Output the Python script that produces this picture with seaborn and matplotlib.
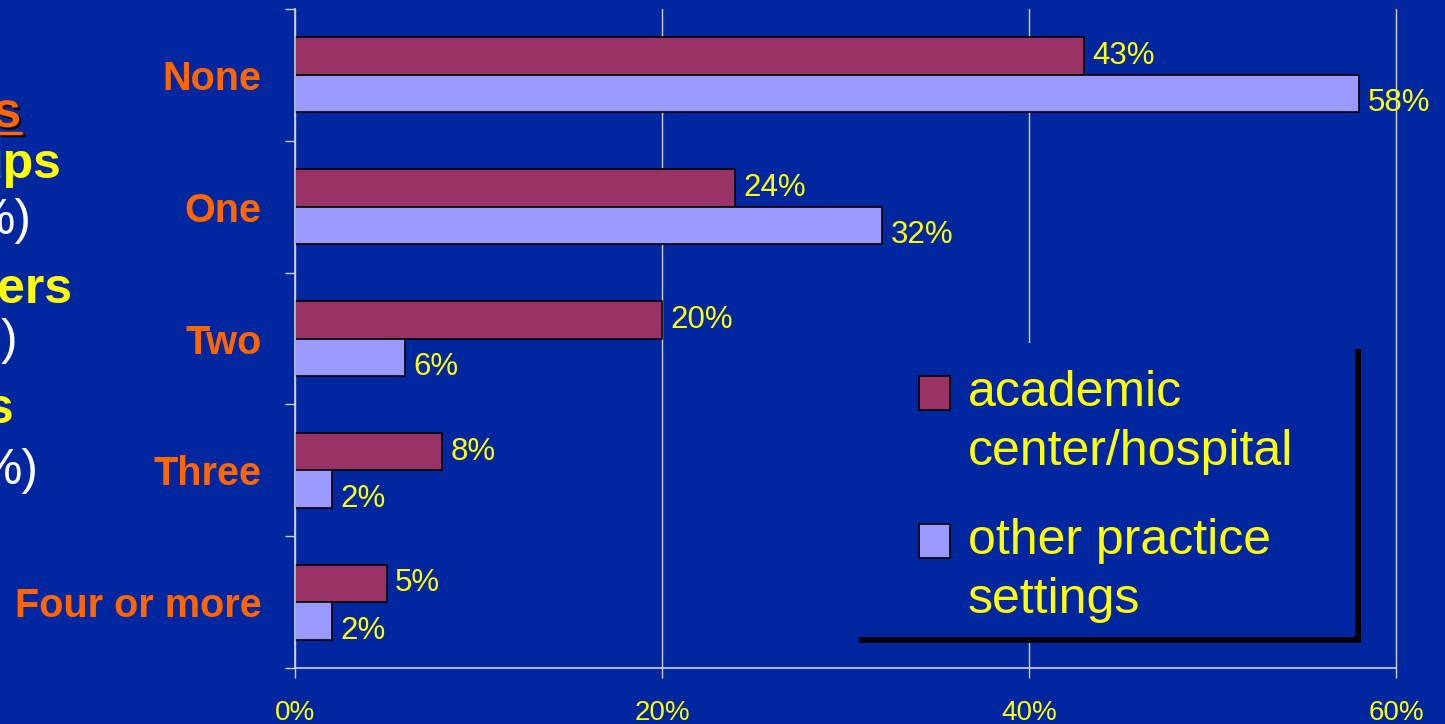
import numpy as np
import pandas as pd
import seaborn as sns
import matplotlib.pyplot as plt
from matplotlib.patches import Rectangle, Patch
from matplotlib.legend_handler import HandlerPatch
from matplotlib.lines import Line2D
import matplotlib.patheffects as pe

# ---- data ----
categories = ["None", "One", "Two", "Three", "Four or more"]
series_names = ["academic\ncenter/hospital", "other practice\nsettings"]
academic = [43, 24, 20, 8, 5]
other = [58, 32, 6, 2, 2]
x_ticks = [0, 20, 40, 60]
x_tick_labels = ["0%", "20%", "40%", "60%"]

BG = '#0027A0'
ORANGE = '#FF6600'
YELLOW = '#FFFF00'
GRID = '#D0D0DC'
COLORS = ['#993366', '#9999FF']

sns.set_theme(style='white')
plt.rcParams['font.family'] = ['Liberation Sans', 'DejaVu Sans']

df = pd.DataFrame({
    'setting': np.repeat(series_names, len(categories)),
    'count': categories * 2,
    'pct': academic + other,
})

W, H = 1445, 724
fig = plt.figure(figsize=(W / 100, H / 100), dpi=100, facecolor=BG)
ax = fig.add_axes([295 / W, 1 - 668 / H, (1396 - 295) / W, (668 - 9) / H])
ax.set_facecolor(BG)

sns.barplot(data=df, y='count', x='pct', hue='setting', order=categories,
            hue_order=series_names, palette=COLORS, width=0.57,
            edgecolor='black', linewidth=1.2, orient='h', ax=ax,
            legend=False, saturation=1, errorbar=None)

for i, c in enumerate(ax.containers):
    texts = ax.bar_label(c, fmt='%d%%', padding=6, color=YELLOW, fontsize=22.5)
    if i == 1:
        for t in texts:
            t.xyann = (t.xyann[0], -7)

ax.set_xlim(0, 60)
ax.set_ylim(4.5, -0.5)
ax.set_xticks(x_ticks, x_tick_labels)
ax.set_yticks([i - 0.5 for i in range(len(categories) + 1)], minor=True)
ax.set_xlabel('')
ax.set_ylabel('')
ax.xaxis.grid(True, color=GRID, lw=1)
ax.yaxis.grid(False)
ax.set_axisbelow(True)
for gl in ax.get_xgridlines():
    gl.set_clip_on(False)
for s in ['top', 'right']:
    ax.spines[s].set_visible(False)
for s in ['left', 'bottom']:
    ax.spines[s].set_color(GRID)
    ax.spines[s].set_linewidth(1.2)

ax.tick_params(axis='y', which='minor', length=7, color=GRID, width=1, direction='out', left=True)
ax.tick_params(axis='y', which='major', length=0, pad=24, labelsize=28.5, labelcolor=ORANGE)
ax.tick_params(axis='x', which='major', length=7, color=GRID, width=1, direction='out',
               bottom=True, pad=16, labelsize=20, labelcolor=YELLOW)
for lbl in ax.get_yticklabels():
    lbl.set_fontweight('bold')

# legend box with shadow
ax.add_patch(Rectangle((859 / W, 1 - 643 / H), (1361 - 859) / W, (643 - 349) / H,
                       transform=fig.transFigure, facecolor='black', edgecolor='none',
                       clip_on=False, zorder=4))
ax.add_patch(Rectangle((853 / W, 1 - 637 / H), (1355 - 853) / W, (637 - 343) / H,
                       transform=fig.transFigure, facecolor=BG, edgecolor='none',
                       clip_on=False, zorder=4.1))


def shifted(legend, orig_handle, xdescent, ydescent, width, height, fontsize):
    return Rectangle((-xdescent, -ydescent + 0.60 * fontsize), width, height)


handles = [Patch(facecolor=c, edgecolor='black', lw=1.2) for c in COLORS]
leg = ax.legend(handles, series_names, handler_map={Patch: HandlerPatch(patch_func=shifted)},
                loc='upper left', bbox_to_anchor=(919 / W, 1 - 370 / H),
                bbox_transform=fig.transFigure, frameon=False, borderpad=0,
                borderaxespad=0, fontsize=36, handlelength=0.62, handleheight=0.66,
                handletextpad=0.36, labelspacing=0.86, labelcolor=YELLOW)
for t in leg.get_texts():
    t.set_linespacing(1.36)
leg.set_zorder(5)

# cut-off slide text at the left
frag = [
    ("s", 21, 127, ORANGE, 'bold'),
    ("ups", 62, 178, YELLOW, 'bold'),
    ("%)", 31, 234, 'white', 'normal'),
    ("ers", 72, 303, YELLOW, 'bold'),
    (")", 17, 354, 'white', 'normal'),
    ("s", 13, 423, YELLOW, 'bold'),
    ("%)", 38, 484, 'white', 'normal'),
]
for s, xr, yb, col, wt in frag:
    t = fig.text(xr / W, 1 - yb / H, s, ha='right', va='baseline', color=col,
                 fontsize=36, fontweight=wt)
    if col == ORANGE:
        t.set_path_effects([pe.SimplePatchShadow(offset=(1.5, -1.5), shadow_rgbFace='black', alpha=1),
                            pe.Normal()])
fig.add_artist(Line2D([0, 21 / W], [1 - 133 / H, 1 - 133 / H], transform=fig.transFigure,
                      color=ORANGE, lw=2.5,
                      path_effects=[pe.SimpleLineShadow(offset=(1.5, -1.5), shadow_color='black', alpha=1),
                                    pe.Normal()]))

fig.savefig('out.png', dpi=100, facecolor=BG)
